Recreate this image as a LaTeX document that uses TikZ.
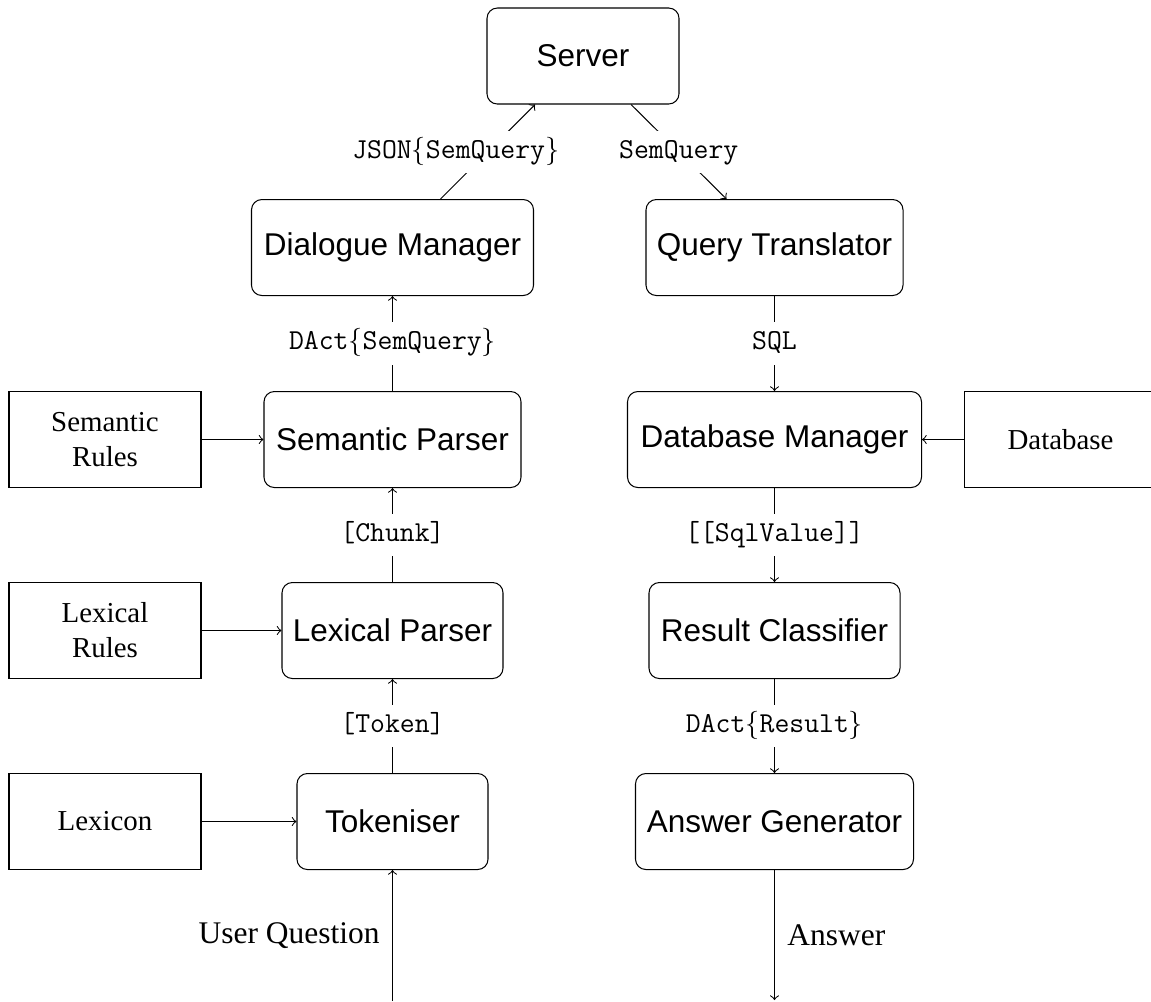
\documentclass[tikz,border=0pt]{standalone}
\usepackage{fontspec}
\setmainfont{Liberation Serif}
\setsansfont{Liberation Sans}

% one drawing unit
\newcommand{\pxlen}{0.3875pt}

\begin{document}
\begin{tikzpicture}[x=0.3875pt, y=-0.3875pt,
  module/.style={draw, rounded corners=4pt, minimum height=96*\pxlen,
    inner xsep=2pt, font=\sffamily\fontsize{12.2}{14.6}\selectfont},
  source/.style={draw, minimum width=192*\pxlen, minimum height=96*\pxlen,
    align=center, font=\fontsize{11.2}{13.6}\selectfont},
  datalabel/.style={fill=white, inner xsep=3pt, inner ysep=3.2pt,
    text height=7.5pt, text depth=2.5pt, font=\ttfamily\fontsize{11.2}{13}\selectfont},
  flow/.style={->},
  io/.style={inner xsep=4.8pt, font=\fontsize{12.2}{14.6}\selectfont}
]
\useasboundingbox (0,0) rectangle (1151,1001);

% processing modules
\node[module, minimum width=192*\pxlen] (server) at (583,56) {Server};
\node[module, minimum width=282*\pxlen] (dm)  at (392.5,247.5) {Dialogue Manager};
\node[module, minimum width=257*\pxlen] (qt)  at (774.5,247.5) {Query Translator};
\node[module, minimum width=257*\pxlen] (sp)  at (392.5,439.5) {Semantic Parser};
\node[module, minimum width=294*\pxlen] (dbm) at (774.5,439.5) {Database Manager};
\node[module, minimum width=221*\pxlen] (lp)  at (392.5,630.5) {Lexical Parser};
\node[module, minimum width=251*\pxlen] (rc)  at (774.5,630.5) {Result Classifier};
\node[module, minimum width=191*\pxlen] (tok) at (392.5,821.5) {Tokeniser};
\node[module, minimum width=278*\pxlen] (ag)  at (774.5,821.5) {Answer Generator};

% resources
\node[source] (semrules) at (105,439.5) {Semantic\\Rules};
\node[source] (lexrules) at (105,630.5) {Lexical\\Rules};
\node[source] (lexicon)  at (105,821.5) {Lexicon};
\node[source] (db)       at (1060.5,439.5) {Database};

% resource inputs
\draw[flow] (semrules) -- (sp);
\draw[flow] (lexrules) -- (lp);
\draw[flow] (lexicon) -- (tok);
\draw[flow] (db) -- (dbm);

% analysis pipeline
\coordinate (uq) at (392.5,1001);
\draw[flow] (uq) -- node[midway, left, io] {User Question} (tok);
\draw[flow] (tok) -- node[datalabel] {[Token]} (lp);
\draw[flow] (lp) -- node[datalabel] {[Chunk]} (sp);
\draw[flow] (sp) -- node[datalabel] {DAct$\{$SemQuery$\}$} (dm);
\draw[flow] ([xshift=48*\pxlen]dm.north) --
  node[datalabel, xshift=-32*\pxlen] {JSON$\{$SemQuery$\}$}
  ([xshift=-48*\pxlen]server.south);

% answering pipeline
\draw[flow] ([xshift=48*\pxlen]server.south) --
  node[datalabel] {SemQuery} ([xshift=-48*\pxlen]qt.north);
\draw[flow] (qt) -- node[datalabel] {SQL} (dbm);
\draw[flow] (dbm) -- node[datalabel] {[[SqlValue]]} (rc);
\draw[flow] (rc) -- node[datalabel] {DAct$\{$Result$\}$} (ag);
\coordinate (ans) at (774.5,1000);
\draw[flow] (ag) -- node[midway, right, io] {Answer} (ans);
\end{tikzpicture}
\end{document}
